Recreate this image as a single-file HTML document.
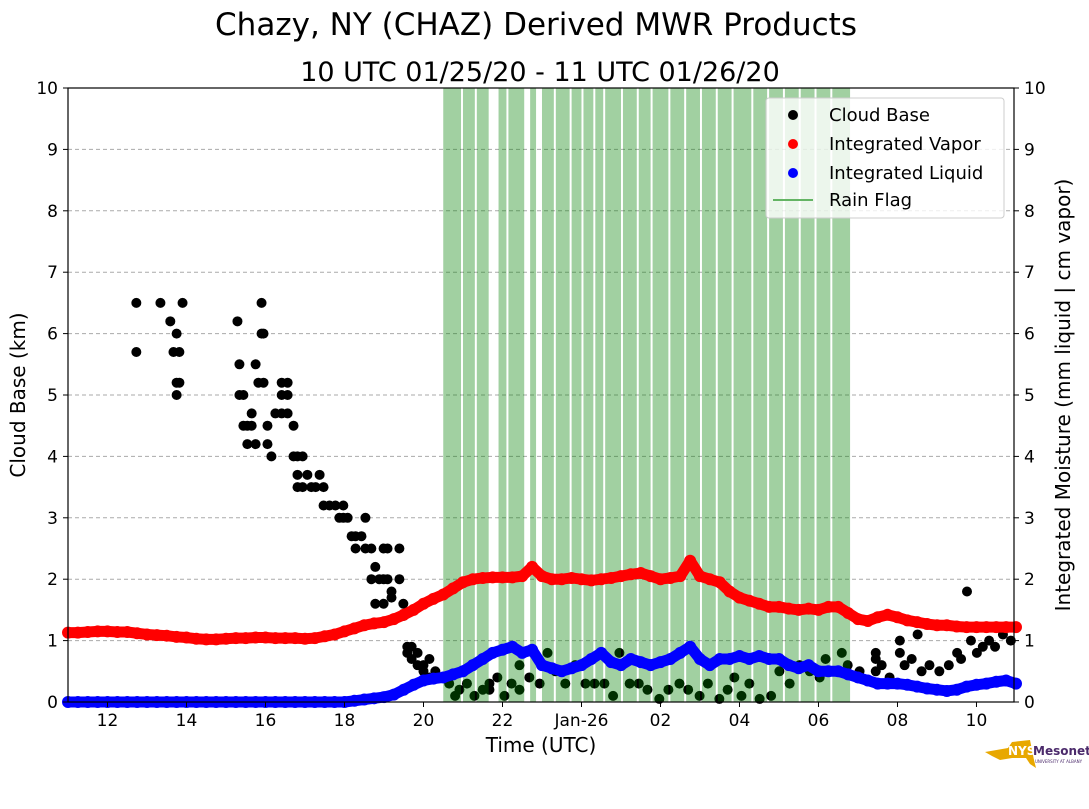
<!DOCTYPE html>
<html><head><meta charset="utf-8"><style>
body{margin:0;background:#fff;}
svg text{font-family:"DejaVu Sans","Liberation Sans",sans-serif;}
</style></head><body>
<svg id="chart" width="1089" height="804" viewBox="0 0 1089 804">
<text x="536" y="35" font-size="31" text-anchor="middle">Chazy, NY (CHAZ) Derived MWR Products</text>
<text x="540" y="81" font-size="27" text-anchor="middle">10 UTC 01/25/20 - 11 UTC 01/26/20</text>
<g id="grid"></g>
<g id="cb"></g>
<g id="rain"></g>
<g id="vap"></g>
<g id="liq"></g>
<rect x="68" y="88" width="946" height="614" fill="none" stroke="#000" stroke-width="1.2"/>
<g id="axes"></g>
<text x="541" y="752" font-size="20" text-anchor="middle">Time (UTC)</text>
<text transform="translate(25,395) rotate(-90)" font-size="20" text-anchor="middle">Cloud Base (km)</text>
<text transform="translate(1070,395) rotate(-90)" font-size="20" text-anchor="middle">Integrated Moisture (mm liquid | cm vapor)</text>
<g>
<rect x="766" y="98" width="238" height="120" rx="3" fill="#fff" fill-opacity="0.8" stroke="#ccc"/>
<circle cx="793" cy="115" r="5" fill="#000"/><text x="829" y="121" font-size="18">Cloud Base</text>
<circle cx="793" cy="144" r="5" fill="#f00"/><text x="829" y="150" font-size="18">Integrated Vapor</text>
<circle cx="793" cy="173" r="5" fill="#00f"/><text x="829" y="179" font-size="18">Integrated Liquid</text>
<line x1="773" y1="200" x2="813" y2="200" stroke="rgb(100,180,100)" stroke-width="2"/><text x="829" y="206" font-size="18">Rain Flag</text>
</g>
<g>
<path d="M985 752 L1008 748 L1012 742 L1030 740 L1034 760 L1036 768 L1030 764 L1026 758 L1012 758 L1000 760 L992 756 Z" fill="#e8a800"/>
<text x="1008" y="755" font-size="12" font-weight="bold" fill="#fff">NYS</text>
<text x="1033" y="755" font-size="12" font-weight="bold" fill="#4b2a6b">Mesonet</text>
<text x="1035" y="763" font-size="4" fill="#4b2a6b">UNIVERSITY AT ALBANY</text>
</g>
</svg>
<script>
const xTickVals=[12,14,16,18,20,22,24,26,28,30,32,34];
const xTickLabels=["12","14","16","18","20","22","Jan-26","02","04","06","08","10"];
const yTickVals=[0,1,2,3,4,5,6,7,8,9,10];
const vaporStart=11, vaporStep=0.25;
const vaporValues=[1.13,1.13,1.14,1.15,1.15,1.14,1.14,1.12,1.10,1.09,1.08,1.06,1.05,1.03,1.02,1.02,1.03,1.04,1.04,1.05,1.05,1.04,1.04,1.04,1.03,1.04,1.07,1.10,1.15,1.20,1.25,1.28,1.30,1.35,1.42,1.50,1.60,1.68,1.75,1.85,1.95,2.00,2.02,2.03,2.03,2.03,2.05,2.20,2.05,2.00,2.00,2.02,2.00,1.98,2.00,2.02,2.05,2.08,2.10,2.05,2.00,2.02,2.05,2.30,2.05,2.00,1.95,1.80,1.70,1.65,1.60,1.55,1.55,1.52,1.50,1.52,1.50,1.55,1.55,1.45,1.35,1.32,1.38,1.42,1.38,1.33,1.30,1.27,1.25,1.25,1.23,1.22,1.22,1.22,1.22,1.22,1.22];
const liquidValues=[0,0,0,0,0,0,0,0,0,0,0,0,0,0,0,0,0,0,0,0,0,0,0,0,0,0,0,0,0,0.02,0.04,0.06,0.08,0.12,0.2,0.28,0.35,0.38,0.4,0.45,0.5,0.6,0.7,0.8,0.85,0.9,0.8,0.85,0.6,0.55,0.5,0.55,0.6,0.7,0.8,0.65,0.6,0.7,0.65,0.6,0.65,0.7,0.8,0.9,0.7,0.6,0.7,0.7,0.75,0.7,0.75,0.7,0.7,0.6,0.55,0.6,0.5,0.5,0.5,0.45,0.4,0.35,0.3,0.3,0.3,0.28,0.25,0.22,0.2,0.18,0.2,0.25,0.28,0.3,0.33,0.35,0.3];
const cbHours=[12.73,12.73,13.34,13.59,13.67,13.75,13.75,13.75,13.82,13.82,13.90,15.29,15.34,15.34,15.44,15.44,15.54,15.54,15.65,15.65,15.75,15.75,15.82,15.90,15.90,15.95,15.95,16.05,16.05,16.15,16.25,16.41,16.41,16.41,16.56,16.56,16.56,16.71,16.71,16.81,16.81,16.81,16.94,16.94,17.06,17.16,17.27,17.37,17.47,17.47,17.62,17.77,17.87,17.97,17.97,18.08,18.18,18.28,18.28,18.43,18.53,18.53,18.68,18.68,18.78,18.78,18.88,18.99,18.99,18.99,19.09,19.09,19.19,19.19,19.39,19.39,19.49,19.49,19.59,19.59,19.70,19.70,19.85,19.85,20.0,20.0,20.15,20.15,20.30,20.65,20.8,20.91,21.1,21.29,21.5,21.67,21.67,21.87,22.05,22.23,22.43,22.43,22.68,22.94,23.14,23.34,23.59,23.84,24.1,24.33,24.58,24.8,24.96,25.22,25.45,25.67,25.97,26.2,26.48,26.7,26.99,27.2,27.49,27.7,27.87,28.05,28.25,28.51,28.8,29.01,29.27,29.52,29.78,30.03,30.18,30.41,30.59,30.74,31.04,31.45,31.45,31.45,31.60,31.80,32.06,32.06,32.18,32.36,32.51,32.61,32.81,33.06,33.30,33.51,33.61,33.76,33.86,34.01,34.16,34.32,34.47,34.67,34.87];
const cbKm=[6.5,5.7,6.5,6.2,5.7,5.2,5.0,6.0,5.7,5.2,6.5,6.2,5.5,5.0,5.0,4.5,4.2,4.5,4.7,4.5,5.5,4.2,5.2,6.5,6.0,5.2,6.0,4.5,4.2,4.0,4.7,5.2,4.7,5.0,4.7,5.0,5.2,4.5,4.0,3.7,4.0,3.5,3.5,4.0,3.7,3.5,3.5,3.7,3.5,3.2,3.2,3.2,3.0,3.2,3.0,3.0,2.7,2.5,2.7,2.7,3.0,2.5,2.5,2.0,2.2,1.6,2.0,2.5,1.6,2.0,2.5,2.0,1.8,1.7,2.5,2.0,1.6,1.4,0.9,0.8,0.9,0.7,0.8,0.6,0.6,0.5,0.7,0.4,0.5,0.3,0.1,0.2,0.3,0.1,0.2,0.3,0.2,0.4,0.1,0.3,0.6,0.2,0.4,0.3,0.8,0.5,0.3,0.6,0.3,0.3,0.3,0.1,0.8,0.3,0.3,0.2,0.05,0.2,0.3,0.2,0.1,0.3,0.05,0.2,0.4,0.1,0.3,0.05,0.1,0.5,0.3,0.6,0.5,0.4,0.7,0.5,0.8,0.6,0.5,0.8,0.7,0.5,0.6,0.4,1.0,0.8,0.6,0.7,1.1,0.5,0.6,0.5,0.6,0.8,0.7,1.8,1.0,0.8,0.9,1.0,0.9,1.1,1.0];
const rainStart=[20.5,21.0,21.35,21.9,22.15,22.7,23.0,23.35,23.75,24.05,24.35,24.6,25.05,25.45,25.8,26.25,26.65,27.05,27.45,27.85,28.35,28.75,29.15,29.55,29.95,30.35];
const rainEnd=[20.95,21.3,21.65,22.1,22.55,22.85,23.3,23.7,24.0,24.3,24.55,25.0,25.4,25.75,26.2,26.6,27.0,27.4,27.8,28.3,28.7,29.1,29.5,29.9,30.3,30.8];

const X0=68,X1=1014,Y0=702,Y1=88,H0=11,H1=34.95;
const xs=h=>X0+(h-H0)/(H1-H0)*(X1-X0);
const ys=v=>Y0-v/10*(Y0-Y1);
const NS="http://www.w3.org/2000/svg";
function mk(tag,parent,attrs){const e=document.createElementNS(NS,tag);for(const k in attrs)e.setAttribute(k,attrs[k]);parent.appendChild(e);return e;}
const grid=document.getElementById('grid'),axes=document.getElementById('axes');
yTickVals.forEach(v=>{
  if(v>0&&v<10){const g=mk('line',grid,{x1:X0,x2:X1,y1:ys(v),y2:ys(v),stroke:'#aaa','stroke-dasharray':'4,3','stroke-width':1});
  
  }
  mk('line',axes,{x1:X0-5,x2:X0,y1:ys(v),y2:ys(v),stroke:'#000'});
  mk('line',axes,{x1:X1,x2:X1+5,y1:ys(v),y2:ys(v),stroke:'#000'});
  const t1=mk('text',axes,{x:X0-10,y:ys(v)+6,'font-size':17,'text-anchor':'end'});t1.textContent=v;
  
  
  const t2=mk('text',axes,{x:X1+10,y:ys(v)+6,'font-size':17});t2.textContent=v;
  
  
});
xTickVals.forEach((h,i)=>{
  mk('line',axes,{x1:xs(h),x2:xs(h),y1:Y0,y2:Y0+5,stroke:'#000'});
  const t=mk('text',axes,{x:xs(h),y:Y0+24,'font-size':17,'text-anchor':'middle'});t.textContent=xTickLabels[i];
  
  
});
const cb=document.getElementById('cb');
cbHours.forEach((h,i)=>{const c=mk('circle',cb,{cx:xs(h),cy:ys(cbKm[i]),r:5,fill:'#000'});
  
  });
const rain=document.getElementById('rain');
rainStart.forEach((s,i)=>{const r=mk('rect',rain,{x:xs(s),y:Y1,width:xs(rainEnd[i])-xs(s),height:Y0-Y1,fill:'rgba(0,128,0,0.37)'});
  
  });
const vap=document.getElementById('vap'),liq=document.getElementById('liq');
function series(g,vals,color,name){
  const pts=vals.map((v,i)=>xs(vaporStart+i*vaporStep)+','+ys(v)).join(' ');
  const pl=mk('polyline',g,{points:pts,fill:'none',stroke:color,'stroke-width':11,'stroke-linecap':'round','stroke-linejoin':'round'});
  
  
  vals.forEach((v,i)=>{const c=mk('circle',g,{cx:xs(vaporStart+i*vaporStep),cy:ys(v),r:6,fill:color});
    
    });
}
series(vap,vaporValues,'#f00','vapor');
series(liq,liquidValues,'#00f','liquid');
</script>
</body></html>
